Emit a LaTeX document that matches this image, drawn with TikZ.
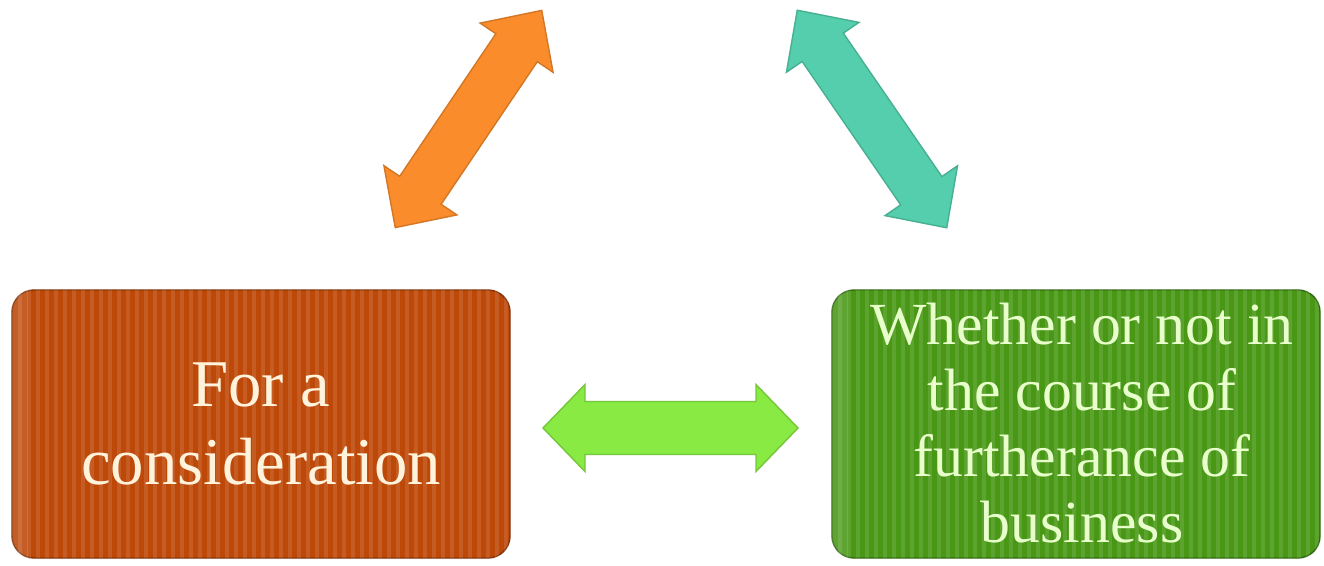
\documentclass[tikz,border=0pt]{standalone}
\usepackage{fontspec}
\setmainfont{Liberation Serif}
\usepackage{tikz}
\usetikzlibrary{positioning,calc}
\definecolor{rustbox}{RGB}{190,72,8}
\definecolor{grassbox}{RGB}{72,152,22}
\definecolor{orangearr}{RGB}{250,140,44}
\definecolor{tealarr}{RGB}{84,206,172}
\definecolor{limearr}{RGB}{136,234,66}
\definecolor{creamtxt}{RGB}{255,243,220}
\definecolor{palegreentxt}{RGB}{232,255,204}
% color, center, angle, half length, head length, head half width, shaft half width
\newcommand{\twoway}[7]{%
  \fill[#1,draw=#1!85!black,line width=0.4pt,shift={#2},rotate=#3]
    (-#4,0) -- (-#4+#5,#6) -- (-#4+#5,#7) -- (#4-#5,#7) -- (#4-#5,#6) -- (#4,0)
    -- (#4-#5,-#6) -- (#4-#5,-#7) -- (-#4+#5,-#7) -- (-#4+#5,-#6) -- cycle;}

\begin{document}
\begin{tikzpicture}[
    box/.style={rounded corners=0.22cm, minimum width=#1, minimum height=2.68cm,
      align=center, inner sep=0pt},
    stripe/.style={white, opacity=0.11, line width=0.9pt}]
    \useasboundingbox (0,0) rectangle (13.24,5.65);
            % boxes
            \node[box=4.98cm, fill=rustbox, draw=rustbox!70!black] (cons) at (2.61,1.41) {};
            \node[box=4.88cm, fill=grassbox, draw=grassbox!70!black] (business) at (10.76,1.41) {};
            \begin{scope}
                \clip[rounded corners=0.22cm] (cons.south west) rectangle (cons.north east);
                \foreach \x in {0.2,0.29,...,5.1} \draw[stripe] (\x,0.07) -- (\x,2.75);
                \fill[white,opacity=0.12] (0.12,0.07) rectangle (0.28,2.75);
            \end{scope}
            \begin{scope}
                \clip[rounded corners=0.22cm] (business.south west) rectangle (business.north east);
                \foreach \x in {8.4,8.49,...,13.2} \draw[stripe] (\x,0.07) -- (\x,2.75);
                \fill[white,opacity=0.12] (8.32,0.07) rectangle (8.48,2.75);
            \end{scope}
            \node[text=creamtxt, align=center, font=\fontsize{19}{22}\selectfont] at (cons) {For a\\consideration};
            \node[text=palegreentxt, align=center, font=\fontsize{17}{18.8}\selectfont] at (10.82,1.42)
                {Whether or not in\\the course of\\furtherance of\\business};
            % double arrows
            \twoway{orangearr}{(4.685,4.46)}{56}{1.31}{0.45}{0.44}{0.25}
            \twoway{tealarr}{(8.72,4.46)}{124.5}{1.32}{0.45}{0.44}{0.25}
            \twoway{limearr}{(6.705,1.37)}{0}{1.275}{0.42}{0.435}{0.265}
\end{tikzpicture}
\end{document}
